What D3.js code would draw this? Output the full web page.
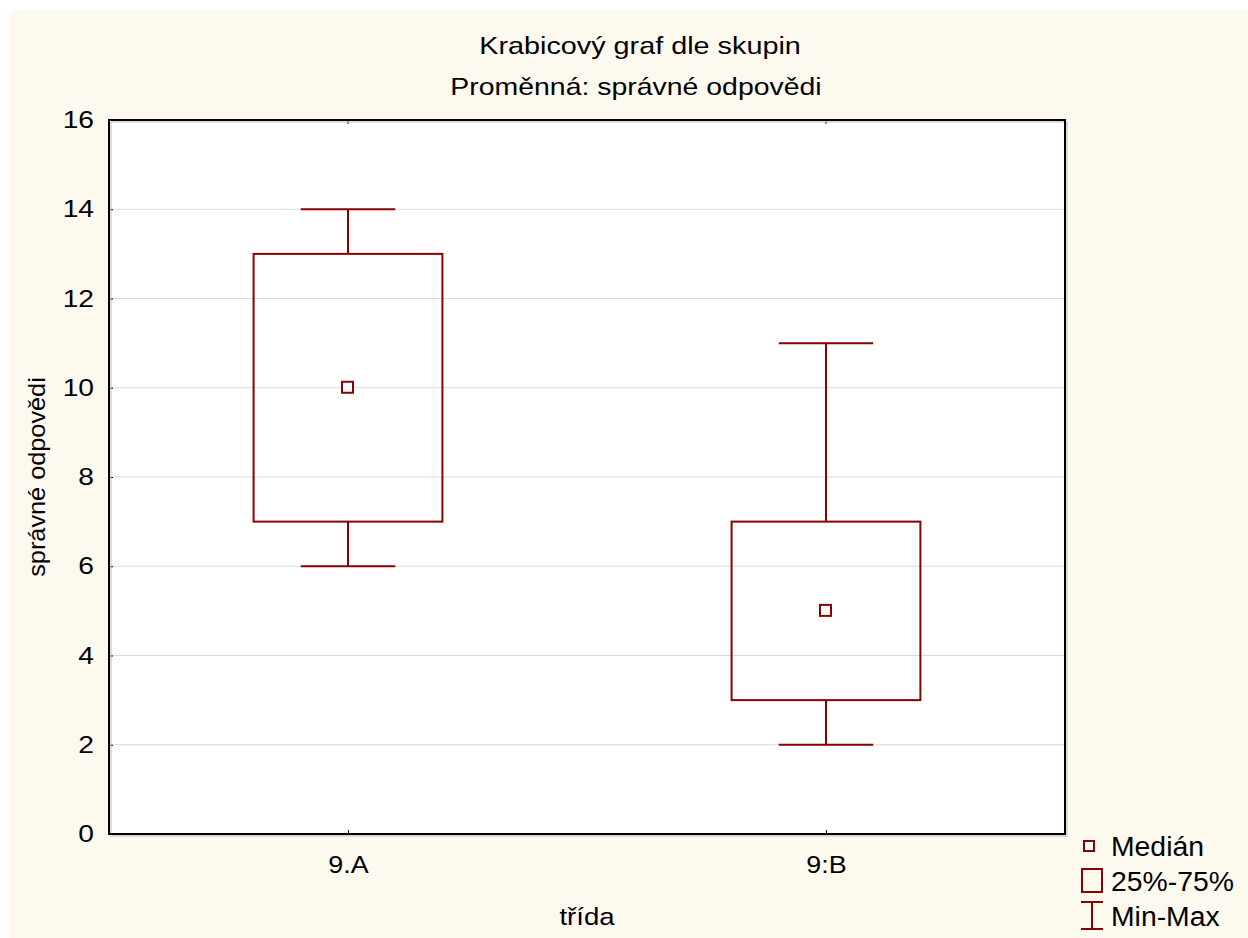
<!DOCTYPE html>
<html>
<head>
<meta charset="utf-8">
<script src="https://cdn.jsdelivr.net/npm/d3@7"></script>
<style>
  html, body { margin: 0; padding: 0; background: #ffffff; }
  svg { display: block; font-family: "Liberation Sans", Arial, sans-serif; }
</style>
</head>
<body>
<script>
// Groups and their summary statistics
const categories = ["9.A", "9:B"];
const minValues = [6, 2];
const q1Values = [7, 3];
const medianValues = [10, 5];
const q3Values = [13, 7];
const maxValues = [14, 11];
const yTicks = [0, 2, 4, 6, 8, 10, 12, 14, 16];
const legendLabels = ["Medián", "25%-75%", "Min-Max"];

const W = 1248, H = 938;
const margin = { left: 109, top: 120, right: 1065, bottom: 834 };
const dark = "#8b0000";
const FONT = "Liberation Sans, Arial, sans-serif";

const svg = d3.select("body").append("svg").attr("width", W).attr("height", H);

// Text drawn with a horizontal stretch (wide, Windows-style glyphs)
function label(parent, tx, ty, str, size, sx, anchor, rot) {
  const g = parent.append("g")
    .attr("transform", `translate(${tx},${ty}) rotate(${rot || 0}) scale(${sx},1)`);
  g.append("text").attr("x", 0).attr("y", 0)
    .attr("text-anchor", anchor || "start")
    .attr("font-family", FONT).attr("font-size", size).attr("fill", "#000")
    .text(str);
  return g;
}

// cream page background
svg.append("rect").attr("x", 9).attr("y", 10).attr("width", W - 9).attr("height", H - 10)
  .attr("fill", "#fef9ef");

const x = d3.scalePoint().domain(categories).range([margin.left, margin.right]).padding(0.5);
const y = d3.scaleLinear().domain([0, 16]).range([margin.bottom, margin.top]);
const step = x.step();

// plot area
svg.append("rect").attr("x", margin.left).attr("y", margin.top)
  .attr("width", margin.right - margin.left).attr("height", margin.bottom - margin.top)
  .attr("fill", "#ffffff");

// horizontal grid
svg.append("g").selectAll("line").data(yTicks.filter(d => d > 0 && d < 16)).join("line")
  .attr("x1", margin.left).attr("x2", margin.right)
  .attr("y1", d => y(d)).attr("y2", d => y(d))
  .attr("stroke", "#dadada").attr("stroke-width", 1);

// left axis
const tickSX = 1.2;
const yAxis = svg.append("g").attr("transform", `translate(${margin.left},0)`)
  .call(d3.axisLeft(y).tickValues(yTicks).tickSize(-4).tickPadding(15));
yAxis.select(".domain").remove();
yAxis.selectAll(".tick line").attr("stroke", "#000");
yAxis.selectAll(".tick text").attr("font-size", 23.5).attr("fill", "#000")
  .attr("font-family", FONT)
  .attr("x", -15 / tickSX)
  .attr("transform", `scale(${tickSX},1)`);

// bottom axis
const xAxis = svg.append("g").attr("transform", `translate(0,${margin.bottom})`)
  .call(d3.axisBottom(x).tickSize(-4).tickPadding(22));
xAxis.select(".domain").remove();
xAxis.selectAll(".tick line").attr("stroke", "#000");
xAxis.selectAll(".tick text").attr("font-size", 24).attr("fill", "#000")
  .attr("font-family", FONT)
  .attr("transform", "scale(1.12,1)");

// top ticks
svg.append("g").selectAll("line").data(categories).join("line")
  .attr("x1", d => x(d)).attr("x2", d => x(d))
  .attr("y1", margin.top).attr("y2", margin.top + 4).attr("stroke", "#000");

// plot frame with faint shadow
svg.append("rect").attr("x", margin.left + 2).attr("y", margin.top + 2)
  .attr("width", margin.right - margin.left).attr("height", margin.bottom - margin.top)
  .attr("fill", "none").attr("stroke", "#bbbbbb").attr("stroke-width", 1);
svg.append("rect").attr("x", margin.left).attr("y", margin.top)
  .attr("width", margin.right - margin.left).attr("height", margin.bottom - margin.top)
  .attr("fill", "none").attr("stroke", "#000").attr("stroke-width", 2);

// boxes
const groups = categories.map((c, i) => ({
  c, min: minValues[i], q1: q1Values[i], med: medianValues[i], q3: q3Values[i], max: maxValues[i]
}));
const boxW = step * 0.395;
const capW = boxW / 2;

const g = svg.append("g").selectAll("g").data(groups).join("g");
g.append("line").attr("x1", d => x(d.c)).attr("x2", d => x(d.c))
  .attr("y1", d => y(d.max)).attr("y2", d => y(d.q3)).attr("stroke", dark).attr("stroke-width", 2);
g.append("line").attr("x1", d => x(d.c)).attr("x2", d => x(d.c))
  .attr("y1", d => y(d.q1)).attr("y2", d => y(d.min)).attr("stroke", dark).attr("stroke-width", 2);
g.append("line").attr("x1", d => x(d.c) - capW / 2).attr("x2", d => x(d.c) + capW / 2)
  .attr("y1", d => y(d.max)).attr("y2", d => y(d.max)).attr("stroke", dark).attr("stroke-width", 2);
g.append("line").attr("x1", d => x(d.c) - capW / 2).attr("x2", d => x(d.c) + capW / 2)
  .attr("y1", d => y(d.min)).attr("y2", d => y(d.min)).attr("stroke", dark).attr("stroke-width", 2);
g.append("rect").attr("x", d => x(d.c) - boxW / 2).attr("y", d => y(d.q3))
  .attr("width", boxW).attr("height", d => y(d.q1) - y(d.q3))
  .attr("fill", "none").attr("stroke", dark).attr("stroke-width", 2);
g.append("rect").attr("x", d => x(d.c) - 6).attr("y", d => y(d.med) - 6)
  .attr("width", 11).attr("height", 11)
  .attr("fill", "#ffffff").attr("stroke", dark).attr("stroke-width", 2);

// titles
label(svg, 640, 54, "Krabicový graf dle skupin", 24, 1.2, "middle");
label(svg, 636, 95, "Proměnná: správné odpovědi", 24, 1.185, "middle");

// axis titles
label(svg, (margin.left + margin.right) / 2, 925, "třída", 24, 1.15, "middle");
label(svg, 45, 477, "správné odpovědi", 23, 1.1, "middle", -90);

// legend
const lg = svg.append("g");
lg.append("rect").attr("x", 1084).attr("y", 841).attr("width", 10).attr("height", 10)
  .attr("fill", "#fff").attr("stroke", dark).attr("stroke-width", 2);
lg.append("rect").attr("x", 1082).attr("y", 869).attr("width", 20).attr("height", 23)
  .attr("fill", "none").attr("stroke", dark).attr("stroke-width", 2);
lg.append("line").attr("x1", 1092).attr("x2", 1092).attr("y1", 902).attr("y2", 929)
  .attr("stroke", dark).attr("stroke-width", 2);
lg.append("line").attr("x1", 1081).attr("x2", 1103).attr("y1", 902).attr("y2", 902)
  .attr("stroke", dark).attr("stroke-width", 2);
lg.append("line").attr("x1", 1081).attr("x2", 1103).attr("y1", 929).attr("y2", 929)
  .attr("stroke", dark).attr("stroke-width", 2);
legendLabels.forEach((t, i) => label(lg, 1111, 856 + i * 35, t, 27, 1.05, "start"));
</script>
</body>
</html>
